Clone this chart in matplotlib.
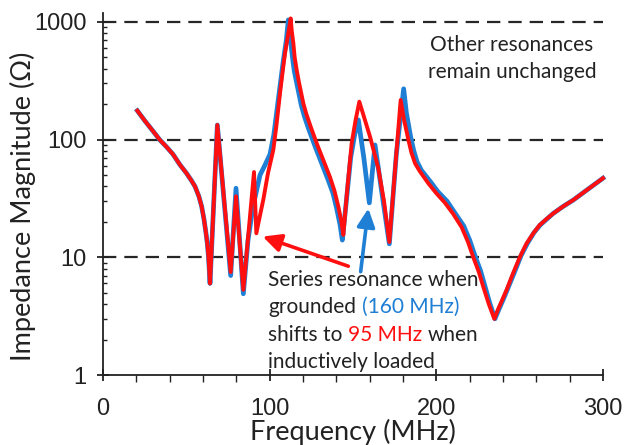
import matplotlib
matplotlib.use("Agg")
import matplotlib.pyplot as plt
from matplotlib.ticker import FixedLocator, NullFormatter

# grounded (blue) and inductively loaded (red) impedance curves
freq_grounded = [20.6, 25, 30, 34.2, 38, 42, 46.2, 50, 53, 55.2, 57.5, 59.2, 60.6, 61.8, 62.6,
                 63.3, 64.2, 68.6, 76.6, 79.8, 84.2, 87, 90, 94.2, 97, 100.2, 102.5, 105.2,
                 108.2, 110, 111.2, 112, 112.8, 114, 114.8, 116.5, 119.0, 121, 123.5, 127.2,
                 131, 135.2, 138, 140.2, 142.2, 143.6, 146, 148.6, 151, 153.2, 156.5, 159.8,
                 163.2, 167.5, 171.8, 176, 180.4, 182, 184.6, 186.5, 188.4, 191, 196.4, 201,
                 206.4, 211, 216.4, 220, 223.2, 226.5, 229, 232, 235.2, 237.5, 240.5, 242.8,
                 246.6, 250.8, 254.6, 258.6, 262.3, 264.4, 265.8, 270, 276, 282.4, 290, 300]
z_grounded = [176, 145, 118, 99, 87, 75, 61, 52, 45, 40, 33, 27, 21, 16, 13,
              10, 6, 133, 7.0, 38.6, 4.9, 14, 27, 50, 60, 75, 110, 220,
              470, 700, 1040, 800, 640, 460, 380, 290, 195, 155, 122, 88,
              64, 45, 35, 26, 19, 14, 30, 70, 110, 147, 70, 29,
              90, 34, 13, 75, 270, 170, 105, 80, 65, 55, 44, 36,
              30, 24, 18.5, 14, 10.3, 7.7, 5.8, 4.1, 3.0, 3.6, 4.5, 5.4,
              7.3, 10.3, 13.1, 16.2, 18.8, 20, 20.8, 23.5, 27, 30.8, 37, 47]

freq_loaded = [20.6, 25, 30, 34.2, 38, 42, 46.2, 50, 53, 55.2, 57.5, 59.2, 60.6, 61.8, 62.6,
               63.3, 64.2, 68.6, 76.6, 79.8, 84.2, 90.6, 92.0, 94, 96.2, 99, 102.2, 104,
               106.2, 108, 109.2, 111.2, 112.6, 113.2, 114.2, 115, 116.2, 117.5, 120.2, 122,
               124.5, 128.2, 132, 136.2, 138.8, 141.2, 142.8, 144.2, 146.5, 149.2, 151.5,
               153.8, 160.2, 165.2, 168.6, 171.8, 175.5, 178.6, 180.5, 183.2, 185, 187.2, 190,
               195.2, 200, 205.2, 210, 215.2, 219, 222.2, 225.5, 228.2, 231.5, 234.8, 237,
               240, 242.2, 246, 250.2, 254, 258.2, 262, 264.2, 265.5, 270, 276, 282.2, 290, 300]
z_loaded = [176, 145, 118, 99, 87, 75, 61, 52, 45, 40, 33, 27, 21, 16, 13,
            10, 6, 133, 7.5, 33, 5.3, 53, 16, 22, 31, 52, 82, 130,
            247, 400, 540, 800, 1070, 850, 660, 500, 390, 310, 203, 165,
            130, 93, 68, 48, 37, 27, 21, 15.5, 37, 93, 145,
            210, 106, 57, 30, 13.5, 62, 217, 150, 100, 78, 63, 54,
            42.5, 35, 29, 23.5, 18, 13.5, 10, 7.5, 5.6, 4.0, 3.0, 3.6,
            4.5, 5.3, 7.3, 10.1, 13, 16, 18.8, 20, 20.8, 23.5, 27, 30.7, 37, 47]

y_ticks = [1, 10, 100, 1000]
x_ticks = [0, 100, 200, 300]

blue = '#1f7fd4'
red = '#ff0f0f'
txt = '#222222'
fs_note = 15

fig = plt.figure(figsize=(6.27, 4.45), dpi=100)
ax = fig.add_axes([0.1643, 0.1573, 0.7974, 0.8135])

for yv in [10, 100, 1000]:
    ax.axhline(yv, color='#262626', lw=1.6, ls=(0, (6, 3.6)), zorder=1)

ax.plot(freq_grounded, z_grounded, color=blue, lw=3.4, zorder=3, clip_on=False)
ax.plot(freq_loaded, z_loaded, color=red, lw=2.8, zorder=4, clip_on=False)

ax.set_yscale('log')
ax.set_xlim(0, 300)
ax.set_ylim(1, 1190)
ax.yaxis.set_major_locator(FixedLocator(y_ticks))
ax.set_yticklabels([str(v) for v in y_ticks])
ax.yaxis.set_minor_formatter(NullFormatter())
ax.set_xticks(x_ticks)
ax.set_xticks(range(20, 300, 20), minor=True)

for s in ['top', 'right']:
    ax.spines[s].set_visible(False)
for s in ['left', 'bottom']:
    ax.spines[s].set_linewidth(1.3)
    ax.spines[s].set_color('#222222')

ax.tick_params(axis='y', which='major', direction='inout', length=8, width=1.3, pad=8,
               labelsize=17, colors='#222222')
ax.tick_params(axis='y', which='minor', direction='in', length=3, width=1.0, colors='#222222')
ax.tick_params(axis='x', which='major', direction='inout', length=9, width=1.3, pad=12,
               labelsize=17, colors='#222222')
ax.tick_params(axis='x', which='minor', direction='out', length=5, width=1.0, colors='#222222')
for lab in ax.get_xticklabels() + ax.get_yticklabels():
    lab.set_family('Liberation Sans')

ax.set_xlabel('Frequency (MHz)', family='Lato', fontsize=19.5, color=txt, va='center')
ax.xaxis.set_label_coords(0.5, -0.158)
ax.set_ylabel('Impedance Magnitude (\u03a9)', family='Lato', fontsize=19.5, color=txt,
              va='center')
ax.yaxis.set_label_coords(-0.16, 0.465)

# top right note
ax.text(245.4, 632, 'Other resonances', family='Lato', fontsize=fs_note, color=txt,
        ha='center', va='center')
ax.text(245.4, 375, 'remain unchanged', family='Lato', fontsize=fs_note, color=txt,
        ha='center', va='center')

# arrows
arrow_kw = dict(arrowstyle='-|>,head_length=0.55,head_width=0.27', lw=2.6, mutation_scale=20,
                shrinkA=0, shrinkB=0)
ax.annotate('', xy=(95.8, 15.0), xytext=(147.2, 8.4),
            arrowprops=dict(color=red, **arrow_kw), zorder=5)
ax.annotate('', xy=(159.2, 26), xytext=(154.6, 7.55),
            arrowprops=dict(color=blue, **arrow_kw), zorder=5)


def colored_line(x, y, pieces):
    t = ax.text(x, y, pieces[0][0], color=pieces[0][1], family='Lato', fontsize=fs_note,
                ha='left', va='center', zorder=6)
    for s, c in pieces[1:]:
        t = ax.annotate(s, xy=(1, 0), xycoords=t, xytext=(4, 0), textcoords='offset points',
                        color=c, family='Lato', fontsize=fs_note, ha='left', va='bottom',
                        zorder=6)


colored_line(99, 6.4, [('Series resonance when', txt)])
colored_line(99, 3.78, [('grounded', txt), ('(160 MHz)', blue)])
colored_line(99, 2.19, [('shifts to', txt), ('95 MHz', red), ('when', txt)])
colored_line(99, 1.29, [('inductively loaded', txt)])

fig.savefig('out.png', dpi=100)
